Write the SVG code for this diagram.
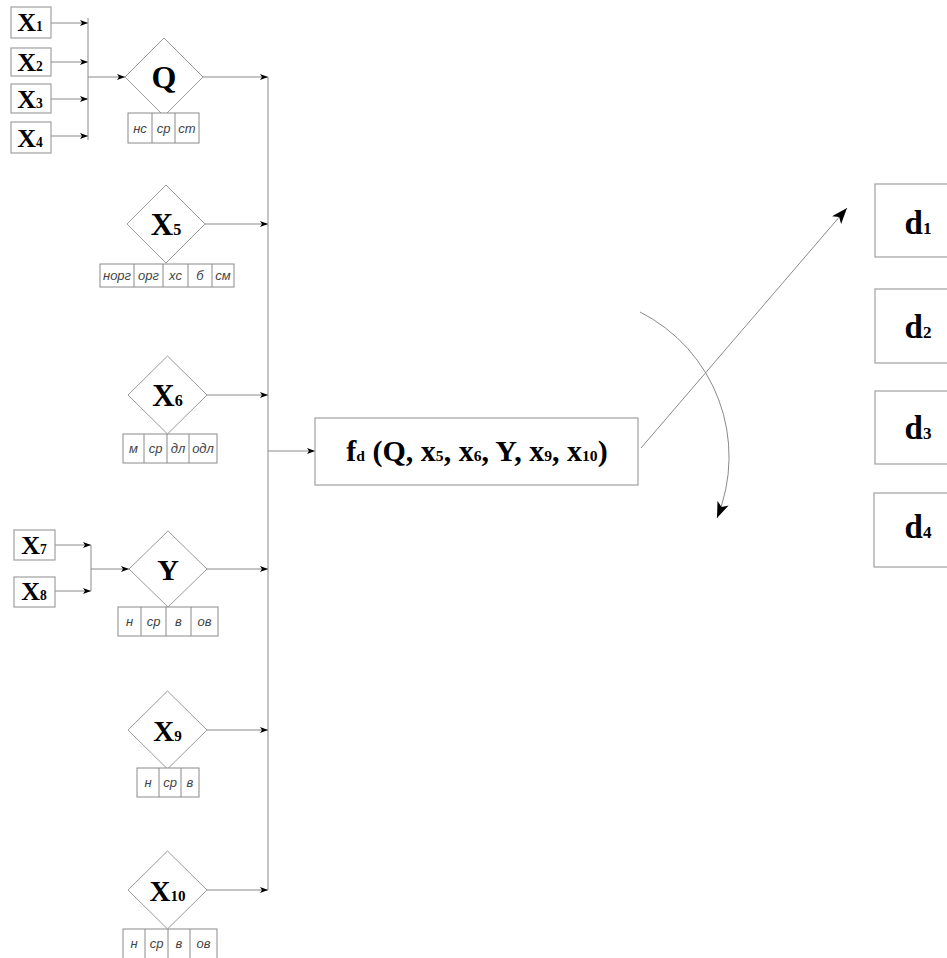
<svg xmlns="http://www.w3.org/2000/svg" width="947" height="958" viewBox="0 0 947 958">
<style>
.ln{stroke:#8a8a8a;stroke-width:1;fill:none}
.bx{stroke:#a0a0a0;stroke-width:1.2;fill:#fff}
.dm{stroke:#9a9a9a;stroke-width:1;fill:#fff}
.cell{stroke:#8a8a8a;stroke-width:1;fill:#fff}
.lb{font-family:"Liberation Serif","Times New Roman",serif;font-weight:bold;fill:#000;text-anchor:middle}
.sub{font-size:0.52em}
.tc{font-family:"Liberation Sans",Arial,sans-serif;font-style:italic;font-size:13px;fill:#444;text-anchor:middle}
</style>
<defs>
<marker id="a" viewBox="0 0 8 6" refX="8" refY="3" markerWidth="8" markerHeight="6" markerUnits="userSpaceOnUse" orient="auto"><path d="M0,0 L8,3 L0,6 L2,3 Z" fill="#000"/></marker>
<marker id="A" viewBox="0 0 16 12" refX="16" refY="6" markerWidth="16" markerHeight="12" markerUnits="userSpaceOnUse" orient="auto"><path d="M0,0 L16,6 L0,12 L4,6 Z" fill="#000"/></marker>
</defs>

<g id="connectors">
<path class="ln" d="M51,23 H88" marker-end="url(#a)"/>
<path class="ln" d="M51,62 H88" marker-end="url(#a)"/>
<path class="ln" d="M51,99 H88" marker-end="url(#a)"/>
<path class="ln" d="M51,136 H88" marker-end="url(#a)"/>
<path class="ln" d="M88,18 V140"/>
<path class="ln" d="M88,77 H125" marker-end="url(#a)"/>
<path class="ln" d="M55,545 H91" marker-end="url(#a)"/>
<path class="ln" d="M55,591 H91" marker-end="url(#a)"/>
<path class="ln" d="M91,545 V591"/>
<path class="ln" d="M91,569 H129" marker-end="url(#a)"/>
<path class="ln" d="M268,77 V890"/>
<path class="ln" d="M203,77 H268" marker-end="url(#a)"/>
<path class="ln" d="M205,224 H268" marker-end="url(#a)"/>
<path class="ln" d="M207,395 H268" marker-end="url(#a)"/>
<path class="ln" d="M207,569 H268" marker-end="url(#a)"/>
<path class="ln" d="M207,730 H268" marker-end="url(#a)"/>
<path class="ln" d="M207,890 H268" marker-end="url(#a)"/>
<path class="ln" d="M268,451 H315" marker-end="url(#a)"/>
<path class="ln" d="M641,448 L847,208" marker-end="url(#A)"/>
<path class="ln" d="M640,312 A162,162 0 0 1 717,518" marker-end="url(#A)"/>
</g>

<g id="x1"><rect class="bx" x="11" y="7" width="40" height="31"/><text class="lb" x="30" y="31" font-size="26">X<tspan class="sub">1</tspan></text></g>
<g id="x2"><rect class="bx" x="11" y="48" width="40" height="28"/><text class="lb" x="30" y="71" font-size="26">X<tspan class="sub">2</tspan></text></g>
<g id="x3"><rect class="bx" x="11" y="84" width="40" height="29"/><text class="lb" x="30" y="108" font-size="26">X<tspan class="sub">3</tspan></text></g>
<g id="x4"><rect class="bx" x="11" y="122" width="40" height="31"/><text class="lb" x="30" y="147" font-size="26">X<tspan class="sub">4</tspan></text></g>
<g id="x7"><rect class="bx" x="14" y="530" width="41" height="30"/><text class="lb" x="34" y="554" font-size="26">X<tspan class="sub">7</tspan></text></g>
<g id="x8"><rect class="bx" x="14" y="577" width="41" height="30"/><text class="lb" x="34" y="600" font-size="26">X<tspan class="sub">8</tspan></text></g>

<g id="q">
<path class="dm" d="M164,38 L203,77 L164,116 L125,77 Z"/>
<text class="lb" x="164" y="88" font-size="32">Q</text>
<rect class="cell" x="128" y="113" width="71" height="30"/>
<path class="ln" d="M152,113 V143 M175,113 V143"/>
<text class="tc" x="140" y="133">нс</text><text class="tc" x="163.5" y="133">ср</text><text class="tc" x="187" y="133">ст</text>
</g>

<g id="x5">
<path class="dm" d="M166,185 L205,224 L166,263 L127,224 Z"/>
<text class="lb" x="166" y="235" font-size="31">X<tspan class="sub">5</tspan></text>
<rect class="cell" x="100" y="264" width="134" height="23"/>
<path class="ln" d="M134,264 V287 M163,264 V287 M188,264 V287 M212,264 V287"/>
<text class="tc" x="117" y="280">норг</text><text class="tc" x="148.5" y="280">орг</text><text class="tc" x="175.5" y="280">хс</text><text class="tc" x="200" y="280">б</text><text class="tc" x="223" y="280">см</text>
</g>

<g id="x6">
<path class="dm" d="M167.5,356 L207,395 L167.5,434 L128,395 Z"/>
<text class="lb" x="167.5" y="406" font-size="31">X<tspan class="sub">6</tspan></text>
<rect class="cell" x="123" y="434" width="94" height="29"/>
<path class="ln" d="M144,434 V463 M167,434 V463 M189,434 V463"/>
<text class="tc" x="133.5" y="453">м</text><text class="tc" x="155.5" y="453">ср</text><text class="tc" x="178" y="453">дл</text><text class="tc" x="203" y="453">одл</text>
</g>

<g id="y">
<path class="dm" d="M168,531 L207,569 L168,607 L129,569 Z"/>
<text class="lb" x="168" y="580" font-size="30">Y</text>
<rect class="cell" x="118" y="607" width="100" height="29"/>
<path class="ln" d="M141,607 V636 M166,607 V636 M191,607 V636"/>
<text class="tc" x="129.5" y="626">н</text><text class="tc" x="153.5" y="626">ср</text><text class="tc" x="178.5" y="626">в</text><text class="tc" x="204.5" y="626">ов</text>
</g>

<g id="x9">
<path class="dm" d="M167.5,691 L207,730 L167.5,769 L128,730 Z"/>
<text class="lb" x="167.5" y="741" font-size="29">X<tspan class="sub">9</tspan></text>
<rect class="cell" x="137" y="768" width="62" height="29"/>
<path class="ln" d="M159,768 V797 M181,768 V797"/>
<text class="tc" x="148" y="787">н</text><text class="tc" x="170" y="787">ср</text><text class="tc" x="190" y="787">в</text>
</g>

<g id="x10">
<path class="dm" d="M167.5,851 L207,890 L167.5,929 L128,890 Z"/>
<text class="lb" x="167.5" y="901" font-size="29">X<tspan class="sub">10</tspan></text>
<rect class="cell" x="123" y="929" width="94" height="30"/>
<path class="ln" d="M145,929 V958 M168,929 V958 M190,929 V958"/>
<text class="tc" x="134" y="948">н</text><text class="tc" x="156.5" y="948">ср</text><text class="tc" x="179" y="948">в</text><text class="tc" x="203.5" y="948">ов</text>
</g>

<g id="f">
<rect class="bx" x="315" y="418" width="323" height="67"/>
<text class="lb" x="477" y="461" font-size="30">f<tspan class="sub">d</tspan> (Q, x<tspan class="sub">5</tspan>, x<tspan class="sub">6</tspan>, Y, x<tspan class="sub">9</tspan>, x<tspan class="sub">10</tspan>)</text>
</g>

<g id="d1"><rect class="bx" x="875" y="184" width="88" height="73"/><text class="lb" x="918" y="234" font-size="33">d<tspan class="sub">1</tspan></text></g>
<g id="d2"><rect class="bx" x="875" y="289" width="88" height="74"/><text class="lb" x="918" y="338" font-size="33">d<tspan class="sub">2</tspan></text></g>
<g id="d3"><rect class="bx" x="875" y="391" width="88" height="73"/><text class="lb" x="918" y="439" font-size="33">d<tspan class="sub">3</tspan></text></g>
<g id="d4"><rect class="bx" x="874" y="493" width="89" height="74"/><text class="lb" x="918" y="538" font-size="33">d<tspan class="sub">4</tspan></text></g>
</svg>
